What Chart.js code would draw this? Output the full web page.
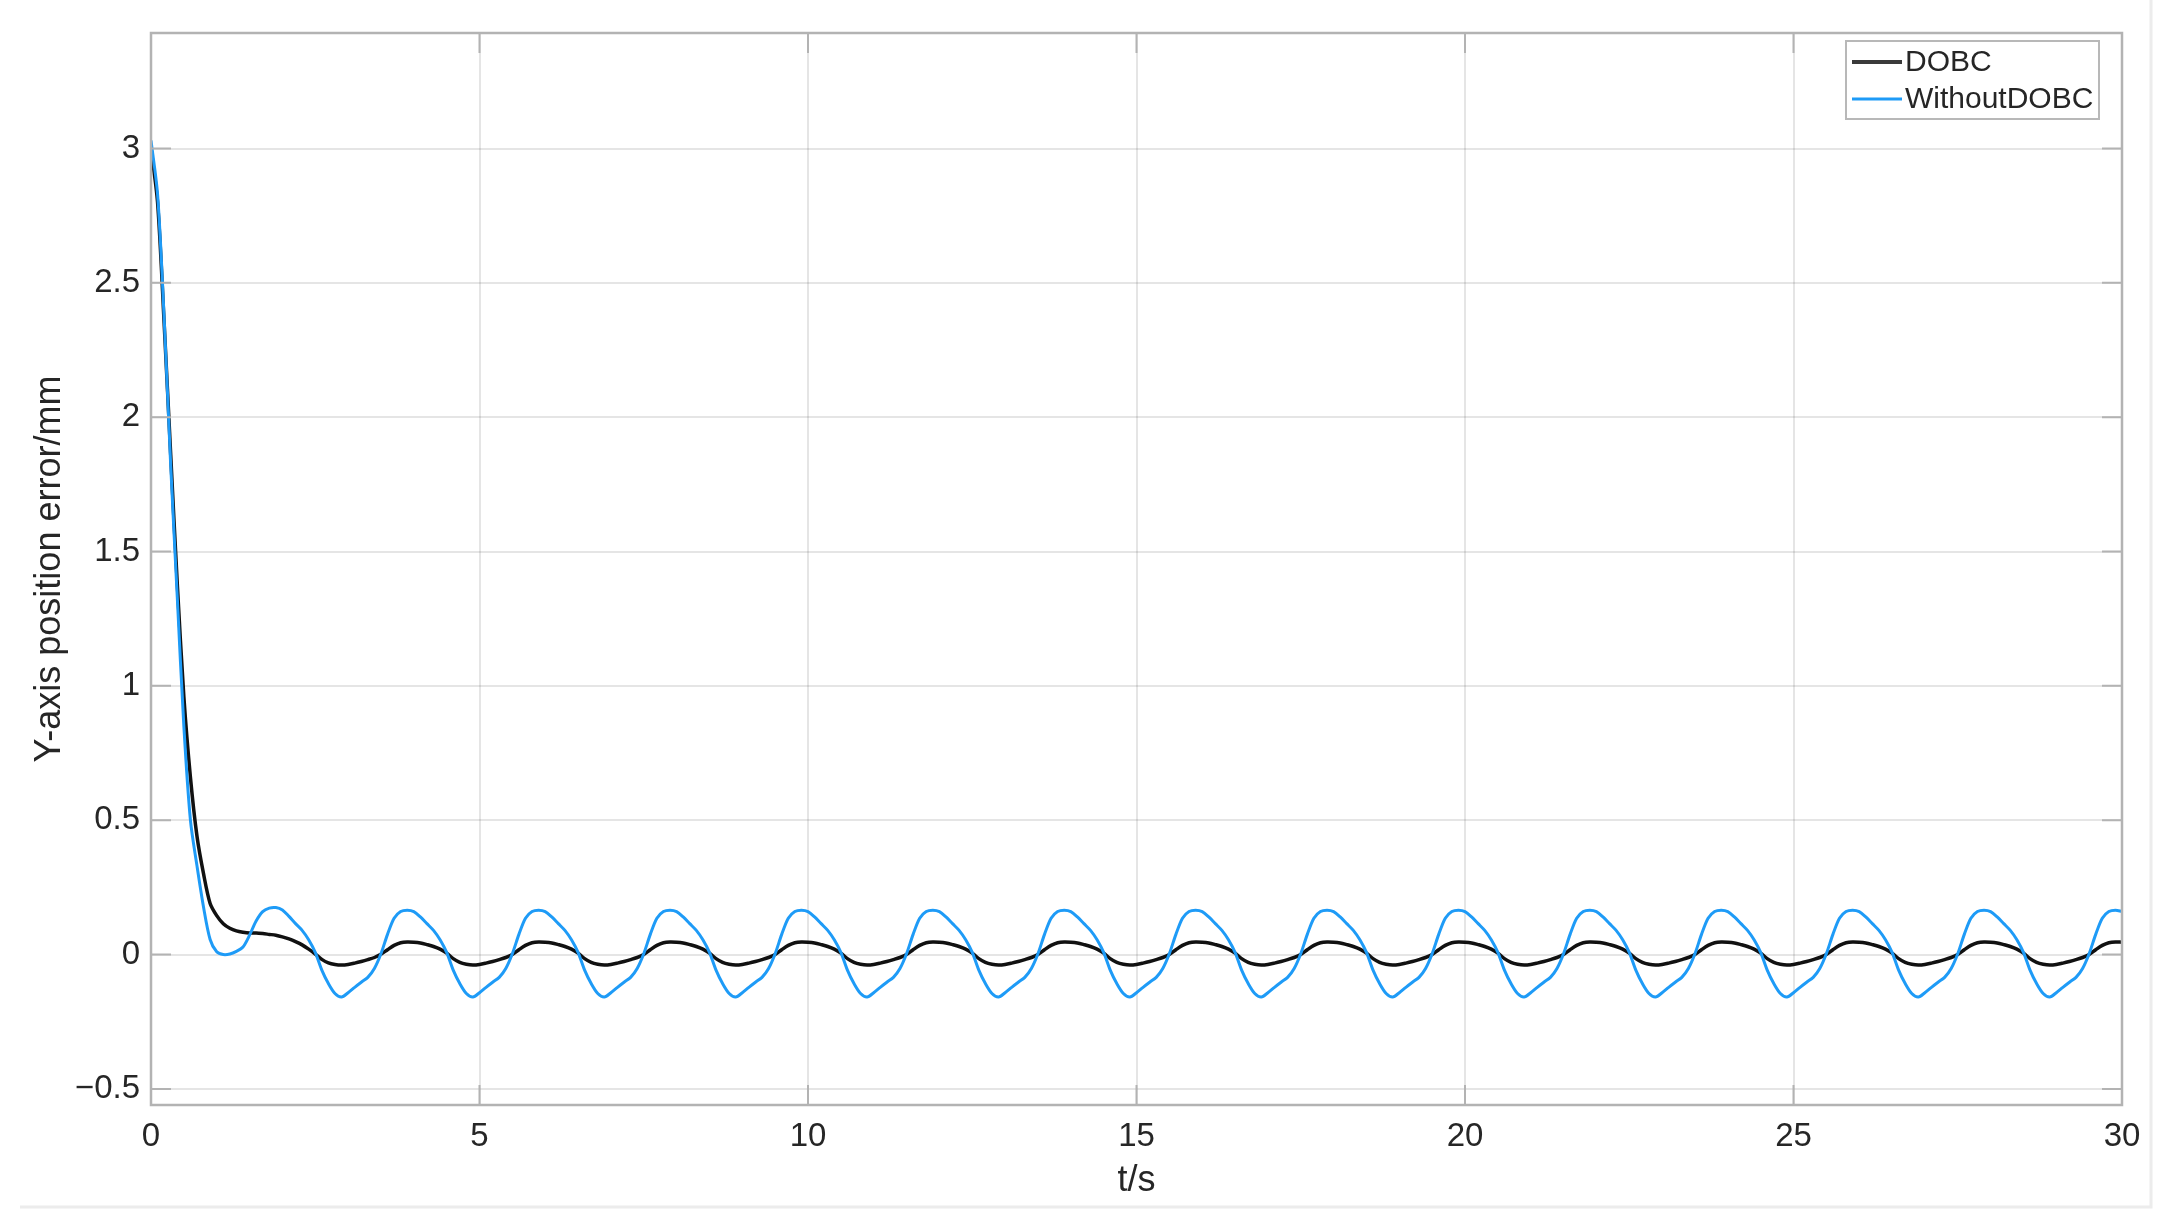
<!DOCTYPE html>
<html>
<head>
<meta charset="utf-8">
<script src="https://cdn.jsdelivr.net/npm/chart.js@4"></script>
<style>
  html, body { margin: 0; padding: 0; background: #fff; }
  canvas { display: block; }
</style>
</head>
<body>
<canvas id="chart" width="2177" height="1229"></canvas>
<script>
// time axis, seconds (0.1 s steps)
const timeS = [
  0.0, 0.1, 0.2, 0.3, 0.4, 0.5, 0.6, 0.7, 0.8, 0.9, 1.0, 1.1, 1.2, 1.3, 1.4, 1.5, 1.6, 1.7, 1.8,
  1.9, 2.0, 2.1, 2.2, 2.3, 2.4, 2.5, 2.6, 2.7, 2.8, 2.9, 3.0, 3.1, 3.2, 3.3, 3.4, 3.5, 3.6, 3.7, 3.8,
  3.9, 4.0, 4.1, 4.2, 4.3, 4.4, 4.5, 4.6, 4.7, 4.8, 4.9, 5.0, 5.1, 5.2, 5.3, 5.4, 5.5, 5.6, 5.7, 5.8,
  5.9, 6.0, 6.1, 6.2, 6.3, 6.4, 6.5, 6.6, 6.7, 6.8, 6.9, 7.0, 7.1, 7.2, 7.3, 7.4, 7.5, 7.6, 7.7, 7.8,
  7.9, 8.0, 8.1, 8.2, 8.3, 8.4, 8.5, 8.6, 8.7, 8.8, 8.9, 9.0, 9.1, 9.2, 9.3, 9.4, 9.5, 9.6, 9.7, 9.8,
  9.9, 10.0, 10.1, 10.2, 10.3, 10.4, 10.5, 10.6, 10.7, 10.8, 10.9, 11.0, 11.1, 11.2, 11.3, 11.4, 11.5, 11.6, 11.7, 11.8,
  11.9, 12.0, 12.1, 12.2, 12.3, 12.4, 12.5, 12.6, 12.7, 12.8, 12.9, 13.0, 13.1, 13.2, 13.3, 13.4, 13.5, 13.6, 13.7, 13.8,
  13.9, 14.0, 14.1, 14.2, 14.3, 14.4, 14.5, 14.6, 14.7, 14.8, 14.9, 15.0, 15.1, 15.2, 15.3, 15.4, 15.5, 15.6, 15.7, 15.8,
  15.9, 16.0, 16.1, 16.2, 16.3, 16.4, 16.5, 16.6, 16.7, 16.8, 16.9, 17.0, 17.1, 17.2, 17.3, 17.4, 17.5, 17.6, 17.7, 17.8,
  17.9, 18.0, 18.1, 18.2, 18.3, 18.4, 18.5, 18.6, 18.7, 18.8, 18.9, 19.0, 19.1, 19.2, 19.3, 19.4, 19.5, 19.6, 19.7, 19.8,
  19.9, 20.0, 20.1, 20.2, 20.3, 20.4, 20.5, 20.6, 20.7, 20.8, 20.9, 21.0, 21.1, 21.2, 21.3, 21.4, 21.5, 21.6, 21.7, 21.8,
  21.9, 22.0, 22.1, 22.2, 22.3, 22.4, 22.5, 22.6, 22.7, 22.8, 22.9, 23.0, 23.1, 23.2, 23.3, 23.4, 23.5, 23.6, 23.7, 23.8,
  23.9, 24.0, 24.1, 24.2, 24.3, 24.4, 24.5, 24.6, 24.7, 24.8, 24.9, 25.0, 25.1, 25.2, 25.3, 25.4, 25.5, 25.6, 25.7, 25.8,
  25.9, 26.0, 26.1, 26.2, 26.3, 26.4, 26.5, 26.6, 26.7, 26.8, 26.9, 27.0, 27.1, 27.2, 27.3, 27.4, 27.5, 27.6, 27.7, 27.8,
  27.9, 28.0, 28.1, 28.2, 28.3, 28.4, 28.5, 28.6, 28.7, 28.8, 28.9, 29.0, 29.1, 29.2, 29.3, 29.4, 29.5, 29.6, 29.7, 29.8,
  29.9, 30.0
];

// DOBC error, mm
const dobcError = [
  3.00, 2.80, 2.35, 1.86, 1.38, 0.96, 0.66, 0.44, 0.30, 0.19, 0.145, 0.115, 0.098, 0.088, 0.083, 0.080, 0.080, 0.078, 0.075,
  0.072, 0.066, 0.058, 0.048, 0.036, 0.020, 0.002, -0.018, -0.031, -0.037, -0.039, -0.037, -0.032, -0.026, -0.019, -0.011, 0.001, 0.018, 0.034, 0.044,
  0.047, 0.046, 0.043, 0.037, 0.030, 0.020, 0.005, -0.015, -0.029, -0.036, -0.039, -0.037, -0.032, -0.026, -0.019, -0.011, 0.000, 0.018, 0.034, 0.044,
  0.047, 0.046, 0.043, 0.037, 0.030, 0.020, 0.005, -0.015, -0.029, -0.036, -0.039, -0.037, -0.032, -0.026, -0.019, -0.011, 0.000, 0.018, 0.034, 0.044,
  0.047, 0.046, 0.043, 0.037, 0.030, 0.020, 0.005, -0.015, -0.029, -0.036, -0.039, -0.037, -0.032, -0.026, -0.019, -0.011, 0.000, 0.018, 0.034, 0.044,
  0.047, 0.046, 0.043, 0.037, 0.030, 0.020, 0.005, -0.015, -0.029, -0.036, -0.039, -0.037, -0.032, -0.026, -0.019, -0.011, 0.000, 0.018, 0.034, 0.044,
  0.047, 0.046, 0.043, 0.037, 0.030, 0.020, 0.005, -0.015, -0.029, -0.036, -0.039, -0.037, -0.032, -0.026, -0.019, -0.011, 0.000, 0.018, 0.034, 0.044,
  0.047, 0.046, 0.043, 0.037, 0.030, 0.020, 0.005, -0.015, -0.029, -0.036, -0.039, -0.037, -0.032, -0.026, -0.019, -0.011, 0.000, 0.018, 0.034, 0.044,
  0.047, 0.046, 0.043, 0.037, 0.030, 0.020, 0.005, -0.015, -0.029, -0.036, -0.039, -0.037, -0.032, -0.026, -0.019, -0.011, 0.000, 0.018, 0.034, 0.044,
  0.047, 0.046, 0.043, 0.037, 0.030, 0.020, 0.005, -0.015, -0.029, -0.036, -0.039, -0.037, -0.032, -0.026, -0.019, -0.011, 0.000, 0.018, 0.034, 0.044,
  0.047, 0.046, 0.043, 0.037, 0.030, 0.020, 0.005, -0.015, -0.029, -0.036, -0.039, -0.037, -0.032, -0.026, -0.019, -0.011, 0.000, 0.018, 0.034, 0.044,
  0.047, 0.046, 0.043, 0.037, 0.030, 0.020, 0.005, -0.015, -0.029, -0.036, -0.039, -0.037, -0.032, -0.026, -0.019, -0.011, 0.000, 0.018, 0.034, 0.044,
  0.047, 0.046, 0.043, 0.037, 0.030, 0.020, 0.005, -0.015, -0.029, -0.036, -0.039, -0.037, -0.032, -0.026, -0.019, -0.011, 0.000, 0.018, 0.034, 0.044,
  0.047, 0.046, 0.043, 0.037, 0.030, 0.020, 0.005, -0.015, -0.029, -0.036, -0.039, -0.037, -0.032, -0.026, -0.019, -0.011, 0.000, 0.018, 0.034, 0.044,
  0.047, 0.046, 0.043, 0.037, 0.030, 0.020, 0.005, -0.015, -0.029, -0.036, -0.039, -0.037, -0.032, -0.026, -0.019, -0.011, 0.000, 0.018, 0.034, 0.044,
  0.047, 0.046
];

// without DOBC error, mm
const noDobcError = [
  3.03, 2.83, 2.37, 1.82, 1.33, 0.85, 0.50, 0.33, 0.176, 0.056, 0.010, 0.000, 0.002, 0.012, 0.028, 0.072, 0.125, 0.160, 0.173,
  0.175, 0.166, 0.142, 0.115, 0.090, 0.055, 0.008, -0.058, -0.108, -0.145, -0.158, -0.142, -0.122, -0.103, -0.085, -0.052, 0.003, 0.075, 0.135, 0.160,
  0.165, 0.160, 0.140, 0.115, 0.090, 0.055, 0.008, -0.058, -0.108, -0.145, -0.158, -0.142, -0.122, -0.103, -0.085, -0.052, 0.003, 0.075, 0.135, 0.160,
  0.165, 0.160, 0.140, 0.115, 0.090, 0.055, 0.008, -0.058, -0.108, -0.145, -0.158, -0.142, -0.122, -0.103, -0.085, -0.052, 0.003, 0.075, 0.135, 0.160,
  0.165, 0.160, 0.140, 0.115, 0.090, 0.055, 0.008, -0.058, -0.108, -0.145, -0.158, -0.142, -0.122, -0.103, -0.085, -0.052, 0.003, 0.075, 0.135, 0.160,
  0.165, 0.160, 0.140, 0.115, 0.090, 0.055, 0.008, -0.058, -0.108, -0.145, -0.158, -0.142, -0.122, -0.103, -0.085, -0.052, 0.003, 0.075, 0.135, 0.160,
  0.165, 0.160, 0.140, 0.115, 0.090, 0.055, 0.008, -0.058, -0.108, -0.145, -0.158, -0.142, -0.122, -0.103, -0.085, -0.052, 0.003, 0.075, 0.135, 0.160,
  0.165, 0.160, 0.140, 0.115, 0.090, 0.055, 0.008, -0.058, -0.108, -0.145, -0.158, -0.142, -0.122, -0.103, -0.085, -0.052, 0.003, 0.075, 0.135, 0.160,
  0.165, 0.160, 0.140, 0.115, 0.090, 0.055, 0.008, -0.058, -0.108, -0.145, -0.158, -0.142, -0.122, -0.103, -0.085, -0.052, 0.003, 0.075, 0.135, 0.160,
  0.165, 0.160, 0.140, 0.115, 0.090, 0.055, 0.008, -0.058, -0.108, -0.145, -0.158, -0.142, -0.122, -0.103, -0.085, -0.052, 0.003, 0.075, 0.135, 0.160,
  0.165, 0.160, 0.140, 0.115, 0.090, 0.055, 0.008, -0.058, -0.108, -0.145, -0.158, -0.142, -0.122, -0.103, -0.085, -0.052, 0.003, 0.075, 0.135, 0.160,
  0.165, 0.160, 0.140, 0.115, 0.090, 0.055, 0.008, -0.058, -0.108, -0.145, -0.158, -0.142, -0.122, -0.103, -0.085, -0.052, 0.003, 0.075, 0.135, 0.160,
  0.165, 0.160, 0.140, 0.115, 0.090, 0.055, 0.008, -0.058, -0.108, -0.145, -0.158, -0.142, -0.122, -0.103, -0.085, -0.052, 0.003, 0.075, 0.135, 0.160,
  0.165, 0.160, 0.140, 0.115, 0.090, 0.055, 0.008, -0.058, -0.108, -0.145, -0.158, -0.142, -0.122, -0.103, -0.085, -0.052, 0.003, 0.075, 0.135, 0.160,
  0.165, 0.160, 0.140, 0.115, 0.090, 0.055, 0.008, -0.058, -0.108, -0.145, -0.158, -0.142, -0.122, -0.103, -0.085, -0.052, 0.003, 0.075, 0.135, 0.160,
  0.165, 0.160
];

const seriesNames = ['DOBC', 'WithoutDOBC'];
const xTicks = [0, 5, 10, 15, 20, 25, 30];
const yTicks = [-0.5, 0, 0.5, 1, 1.5, 2, 2.5, 3];

const FONT = "'Liberation Sans', Arial, Helvetica, sans-serif";
const TEXT = '#262626';
const AXIS = '#b3b3b3';
const BLUE = '#1e9bf7';

const toPoints = (ys) => ys.map((y, i) => ({ x: timeS[i], y }));

// MATLAB-like box, inner ticks, legend and figure edge
const decorations = {
  id: 'decorations',
  afterDatasetsDraw(chart) {
    const { ctx, chartArea: a, scales } = chart;
    ctx.save();
    ctx.strokeStyle = AXIS;
    ctx.lineWidth = 2;
    const tl = 20;
    ctx.beginPath();
    xTicks.forEach(v => {
      const px = scales.x.getPixelForValue(v);
      ctx.moveTo(px, a.bottom); ctx.lineTo(px, a.bottom - tl);
      ctx.moveTo(px, a.top); ctx.lineTo(px, a.top + tl);
    });
    yTicks.forEach(v => {
      const py = scales.y.getPixelForValue(v);
      ctx.moveTo(a.left, py); ctx.lineTo(a.left + tl, py);
      ctx.moveTo(a.right, py); ctx.lineTo(a.right - tl, py);
    });
    ctx.stroke();
    ctx.lineWidth = 2.5;
    ctx.strokeRect(a.left, a.top, a.right - a.left, a.bottom - a.top);

    // legend box
    const bx = 1846, by = 41, bw = 253, bh = 78;
    ctx.fillStyle = '#fff';
    ctx.fillRect(bx, by, bw, bh);
    ctx.strokeStyle = '#b8b8b8';
    ctx.lineWidth = 2;
    ctx.strokeRect(bx, by, bw, bh);
    const rows = [
      { label: seriesNames[0], color: '#3a3a3a', width: 4, y: 62 },
      { label: seriesNames[1], color: BLUE, width: 3, y: 99 }
    ];
    ctx.font = '30px ' + FONT;
    ctx.textBaseline = 'middle';
    ctx.textAlign = 'left';
    rows.forEach(r => {
      ctx.strokeStyle = r.color;
      ctx.lineWidth = r.width;
      ctx.beginPath();
      ctx.moveTo(1852, r.y); ctx.lineTo(1902, r.y);
      ctx.stroke();
      ctx.fillStyle = TEXT;
      ctx.fillText(r.label, 1905, r.y + 1);
    });

    // faint figure edge
    ctx.strokeStyle = '#ececec';
    ctx.lineWidth = 3;
    ctx.beginPath();
    ctx.moveTo(2151, 0); ctx.lineTo(2151, 1207); ctx.lineTo(20, 1207);
    ctx.stroke();
    ctx.restore();
  }
};

new Chart(document.getElementById('chart'), {
  type: 'line',
  data: {
    datasets: [
      {
        label: seriesNames[0],
        data: toPoints(dobcError),
        borderColor: '#111',
        borderWidth: 3.5,
        pointRadius: 0,
        tension: 0.3,
        order: 2
      },
      {
        label: seriesNames[1],
        data: toPoints(noDobcError),
        borderColor: BLUE,
        borderWidth: 3,
        pointRadius: 0,
        tension: 0.3,
        order: 1
      }
    ]
  },
  options: {
    responsive: false,
    animation: false,
    devicePixelRatio: 1,
    layout: { padding: { top: 33, right: 55, bottom: 0, left: 0 } },
    plugins: { legend: { display: false }, tooltip: { enabled: false } },
    scales: {
      x: {
        type: 'linear',
        min: 0,
        max: 30,
        afterFit: s => { s.height = 124; },
        border: { display: false },
        grid: { color: 'rgba(0,0,0,0.10)', lineWidth: 2, drawTicks: false },
        ticks: {
          stepSize: 5,
          maxRotation: 0,
          padding: 12,
          color: TEXT,
          font: { family: FONT, size: 33 }
        },
        title: {
          display: true,
          text: 't/s',
          color: TEXT,
          font: { family: FONT, size: 36 },
          padding: { top: 0, bottom: 26 }
        }
      },
      y: {
        min: -0.56,
        max: 3.43,
        afterFit: s => { s.width = 151; },
        border: { display: false },
        grid: { color: 'rgba(0,0,0,0.10)', lineWidth: 2, drawTicks: false },
        ticks: {
          stepSize: 0.5,
          includeBounds: false,
          padding: 11,
          color: TEXT,
          font: { family: FONT, size: 33 },
          callback: v => (v < 0 ? '\u2212' + String(-v) : String(v))
        },
        title: {
          display: true,
          text: 'Y-axis position error/mm',
          color: TEXT,
          font: { family: FONT, size: 36 },
          padding: { top: 28, bottom: 0 }
        }
      }
    }
  },
  plugins: [decorations]
});
</script>
</body>
</html>
